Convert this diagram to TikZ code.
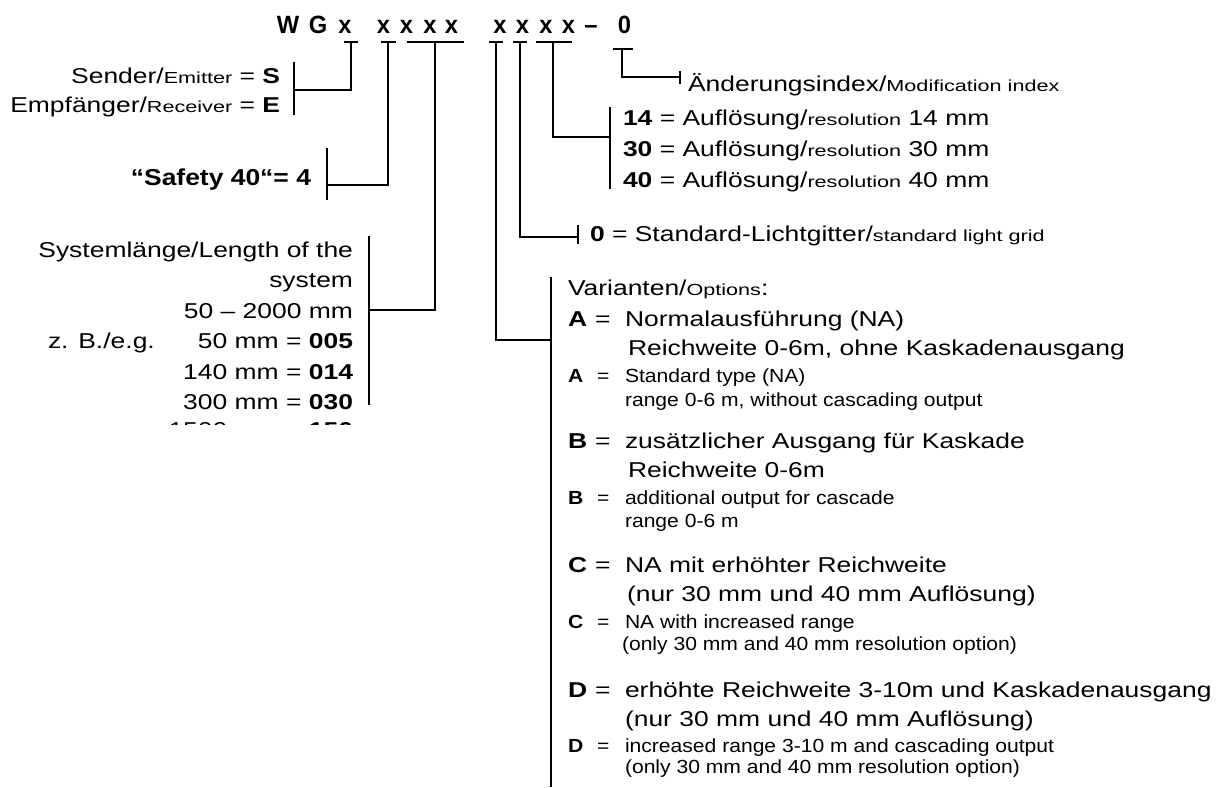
\documentclass[tikz,border=0pt]{standalone}
\usepackage{fontspec}
\setmainfont{Liberation Sans}
\newfontfamily\fbig[FakeStretch=1.23]{Liberation Sans}
\newfontfamily\fsm[FakeStretch=1.35]{Liberation Sans}
\newfontfamily\fen[FakeStretch=1.11]{Liberation Sans}
\newfontfamily\fcode[FakeStretch=0.95]{Liberation Sans}
\newfontfamily\fsafe[FakeStretch=1.15]{Liberation Sans}
\newcommand\txbig{\fbig\fontsize{21.5}{26}\selectfont}
\newcommand\txsm{\fsm\fontsize{16}{19}\selectfont}
\newcommand\txen{\fen\fontsize{19}{22}\selectfont}
\newcommand\txcode{\fcode\bfseries\fontsize{25}{30}\selectfont}
\newcommand\txsafe{\fsafe\bfseries\fontsize{23}{27}\selectfont}
\tikzset{
  ln/.style={line width=1.5pt},
  lw/.style={inner sep=0pt, outer sep=0pt, anchor=base west, font=\txbig},
  le/.style={inner sep=0pt, outer sep=0pt, anchor=base east, font=\txbig},
  lsm/.style={inner sep=0pt, outer sep=0pt, anchor=base west, font=\txen},
  cc/.style={inner sep=0pt, outer sep=0pt, anchor=base, font=\txcode},
}
\begin{document}
\begin{tikzpicture}[x=1pt,y=-1pt]
\useasboundingbox (0,0) rectangle (1223,787);
% code line
\node[cc] (c1) at (288,33) {W};
\node[cc] (c2) at (318,33) {G};
\node[cc] (c3) at (345,33) {x};
\node[cc] (c4) at (383.5,33) {x};
\node[cc] (c5) at (406.5,33) {x};
\node[cc] (c6) at (430,33) {x};
\node[cc] (c7) at (451.5,33) {x};
\node[cc] (c8) at (500,33) {x};
\node[cc] (c9) at (522.5,33) {x};
\node[cc] (c10) at (546,33) {x};
\node[cc] (c11) at (568.5,33) {x};
\node[cc] (c12) at (591,33) {–};
\node[cc] (c13) at (624.5,33) {0};
% left labels
\node[le] (snd) at (280,83) {Sender/{\txsm Emitter} = \textbf{S}};
\node[le] (emp) at (280,112) {Empfänger/{\txsm Receiver} = \textbf{E}};
\node[le, font=\txsafe] (saf) at (311,185) {“Safety 40“= 4};
\node[le] (sys1) at (353,257) {Systemlänge/Length of the};
\node[le] (sys2) at (353,287) {system};
\node[le] (sys3) at (353,318) {50 – 2000 mm};
\node[le] (sys4) at (353,348) {50 mm = \textbf{005}};
\node[le] (sys5) at (353,379) {140 mm = \textbf{014}};
\node[le] (sys6) at (353,409) {300 mm = \textbf{030}};
\begin{scope}
\clip (0,415) rectangle (400,424.5);
\node[le] (sys7) at (353,437) {1500 mm = \textbf{150}};
\end{scope}
\node[lw] (zb) at (48,348) {z. B./e.g.};
% right labels
\node[lw] (aend) at (688,91) {Änderungsindex/{\txsm Modification index}};
\node[lw] (r14) at (623,125) {\textbf{14} = Auflösung/{\txsm resolution} 14 mm};
\node[lw] (r30) at (623,156) {\textbf{30} = Auflösung/{\txsm resolution} 30 mm};
\node[lw] (r40) at (623,187) {\textbf{40} = Auflösung/{\txsm resolution} 40 mm};
\node[lw] (std) at (590,241) {\textbf{0} = Standard-Lichtgitter/{\txsm standard light grid}};
\node[lw] (var) at (568,295) {Varianten/{\txsm Options}:};
% A
\node[lw] (Ak) at (568,326) {\textbf{A}};
\node[lw] (Ae) at (595,326) {=};
\node[lw] (A1) at (625,326) {Normalausführung (NA)};
\node[lw] (A2) at (628,355) {Reichweite 0-6m, ohne Kaskadenausgang};
\node[lsm] (ak) at (568,382) {\textbf{A}};
\node[lsm] (ae) at (597,382) {=};
\node[lsm] (a1) at (625,382) {Standard type (NA)};
\node[lsm] (a2) at (625,406) {range 0-6 m, without cascading output};
% B
\node[lw] (Bk) at (568,448) {\textbf{B}};
\node[lw] (Be) at (595,448) {=};
\node[lw] (B1) at (625,448) {zusätzlicher Ausgang für Kaskade};
\node[lw] (B2) at (628,477) {Reichweite 0-6m};
\node[lsm] (bk) at (568,504) {\textbf{B}};
\node[lsm] (be) at (597,504) {=};
\node[lsm] (b1) at (625,504) {additional output for cascade};
\node[lsm] (b2) at (625,527) {range 0-6 m};
% C
\node[lw] (Ck) at (568,572) {\textbf{C}};
\node[lw] (Ce) at (595,572) {=};
\node[lw] (C1) at (625,572) {NA mit erhöhter Reichweite};
\node[lw] (C2) at (627,601) {(nur 30 mm und 40 mm Auflösung)};
\node[lsm] (ck) at (568,628) {\textbf{C}};
\node[lsm] (ce) at (597,628) {=};
\node[lsm] (c1t) at (625,628) {NA with increased range};
\node[lsm] (c2t) at (622,650) {(only 30 mm and 40 mm resolution option)};
% D
\node[lw] (Dk) at (568,697) {\textbf{D}};
\node[lw] (De) at (595,697) {=};
\node[lw] (D1) at (625,697) {erhöhte Reichweite 3-10m und Kaskadenausgang};
\node[lw] (D2) at (625,726) {(nur 30 mm und 40 mm Auflösung)};
\node[lsm] (dk) at (568,752) {\textbf{D}};
\node[lsm] (de) at (597,752) {=};
\node[lsm] (d1t) at (625,752) {increased range 3-10 m and cascading output};
\node[lsm] (d2t) at (625,773) {(only 30 mm and 40 mm resolution option)};
% connector coordinates
\coordinate (t1a) at (344,42); \coordinate (t1b) at (358,42); \coordinate (t1m) at (351,42);
\coordinate (k1) at (294,90); \coordinate (k1a) at (294,62); \coordinate (k1b) at (294,115);
\coordinate (t2a) at (381,42); \coordinate (t2b) at (396,42); \coordinate (t2m) at (388,42);
\coordinate (k2) at (327,185); \coordinate (k2a) at (327,148); \coordinate (k2b) at (327,200);
\coordinate (t3a) at (407,42); \coordinate (t3b) at (464,42); \coordinate (t3m) at (435,42);
\coordinate (k3) at (369,310); \coordinate (k3a) at (369,236); \coordinate (k3b) at (369,405);
\coordinate (t4a) at (489,42); \coordinate (t4b) at (503,42); \coordinate (t4m) at (496,42);
\coordinate (k4) at (551,340); \coordinate (k4a) at (551,277); \coordinate (k4b) at (551,787);
\coordinate (t5a) at (513,42); \coordinate (t5b) at (527,42); \coordinate (t5m) at (520,42);
\coordinate (k5) at (578,237); \coordinate (k5a) at (578,225); \coordinate (k5b) at (578,244);
\coordinate (t6a) at (536,42); \coordinate (t6b) at (572,42); \coordinate (t6m) at (553,42);
\coordinate (k6) at (610,137); \coordinate (k6a) at (610,107); \coordinate (k6b) at (610,189);
\coordinate (t7a) at (613,49); \coordinate (t7b) at (633,49); \coordinate (t7m) at (622,49);
\coordinate (k7) at (680,77); \coordinate (k7a) at (680,71); \coordinate (k7b) at (680,84);
\foreach \i in {1,...,7}{
  \draw[ln] (t\i a) -- (t\i b);
  \draw[ln] (t\i m) |- (k\i);
  \draw[ln] (k\i a) -- (k\i b);
}
\end{tikzpicture}
\end{document}
